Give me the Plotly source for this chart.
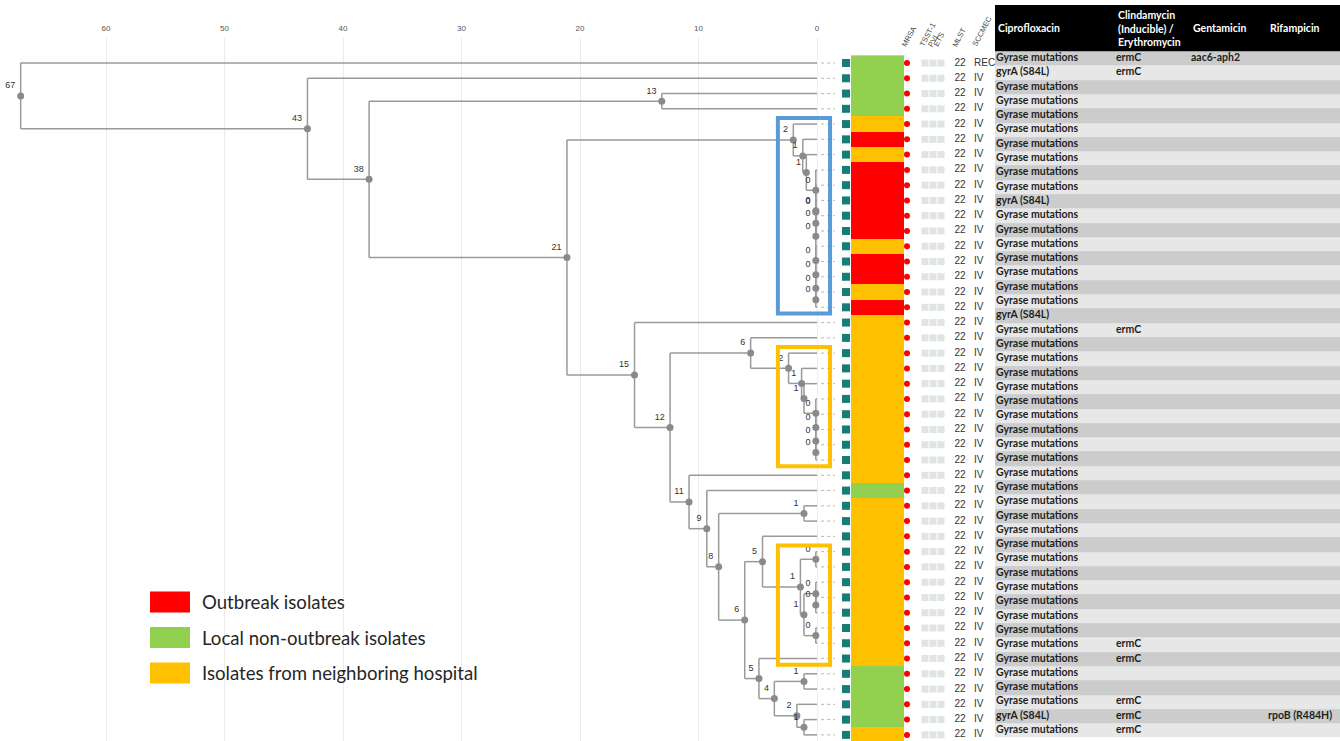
import re
import plotly.graph_objects as go

W, H = 1340, 741

# ---------------- data ----------------
# dendrogram (node labels = node heights, SNP distance)
TREE_NEWICK = ("(S01,(S02,((S03,S04)13.1,((S05,(S06,(S07,(S08,(S09,((S10,(S11,S12)0.1)0.1,"
               "(S13,(S14,(S15,(S16,S17)0.1)0.1)0.1)0.1)0.1)0.1)0.1)0.9)1.2)2.0,"
               "(S18,((S19,(S20,(S21,(S22,(S23,(S24,(S25,(S26,S27)0.1)0.1)0.1)0.1)1.1)1.3)2.4)5.6,"
               "(S28,(S29,((S30,S31)1.1,((S32,((S33,S34)0.1,((S35,(S36,S37)0.1)0.1,(S38,S39)0.1)1.1)1.4)4.6,"
               "(S40,((S41,S42)1.1,(S43,(S44,S45)1.1)1.7)3.6)4.9)6.1)8.3)9.3)10.8)12.4)15.4)21.1)37.8)43.0)67.2;")

DIST_TICKS = [0, 10, 20, 30, 40, 50, 60]

GROUP_NAMES = ["Outbreak isolates", "Local non-outbreak isolates", "Isolates from neighboring hospital"]
GROUP_COLORS = ["#ff0000", "#92d050", "#ffc000"]
# 0 = outbreak, 1 = local non-outbreak, 2 = neighboring hospital (leaf order)
ISOLATE_GROUP = [1, 1, 1, 1, 2, 0, 2, 0, 0, 0, 0, 0, 2, 0, 0, 2, 0,
                 2, 2, 2, 2, 2, 2, 2, 2, 2, 2, 2, 1,
                 2, 2, 2, 2, 2, 2, 2, 2, 2, 2, 2, 1, 1, 1, 1, 2]
MRSA = list("+++++++++++++++++++++++++++++++++++++++++++++")
TSST1 = list("---------------------------------------------")
PVL = list("---------------------------------------------")
ETS = list("---------------------------------------------")
MLST = [22, 22, 22, 22, 22, 22, 22, 22, 22, 22, 22, 22, 22, 22, 22, 22, 22, 22, 22, 22, 22, 22, 22,
        22, 22, 22, 22, 22, 22, 22, 22, 22, 22, 22, 22, 22, 22, 22, 22, 22, 22, 22, 22, 22, 22]
SCCMEC = ["REC", "IV", "IV", "IV", "IV", "IV", "IV", "IV", "IV", "IV", "IV", "IV", "IV", "IV", "IV",
          "IV", "IV", "IV", "IV", "IV", "IV", "IV", "IV", "IV", "IV", "IV", "IV", "IV", "IV", "IV",
          "IV", "IV", "IV", "IV", "IV", "IV", "IV", "IV", "IV", "IV", "IV", "IV", "IV", "IV", "IV"]
STRIP_HEADERS = ["MRSA", "TSST-1", "PVL", "ETS", "MLST", "SCCMEC"]

# resistance table
TABLE_HEADERS = ["Ciprofloxacin", "Clindamycin<br>(Inducible) /<br>Erythromycin", "Gentamicin", "Rifampicin"]
G = "Gyrase mutations"
A = "gyrA (S84L)"
E = "ermC"
CIPRO = [G, A, G, G, G, G, G, G, G, G, A, G, G, G, G, G, G, G, A, G, G, G, G, G,
         G, G, G, G, G, G, G, G, G, G, G, G, G, G, G, G, G, G, G, G, G, G, A, G]
CLINDA = [E, E, "", "", "", "", "", "", "", "", "", "", "", "", "", "", "", "", "", E, "", "", "", "",
          "", "", "", "", "", "", "", "", "", "", "", "", "", "", "", "", "", E, E, "", "", E, E, E]
GENTA = ["aac6-aph2", "", "", "", "", "", "", "", "", "", "", "", "", "", "", "", "", "", "", "", "", "", "", "",
         "", "", "", "", "", "", "", "", "", "", "", "", "", "", "", "", "", "", "", "", "", "", "", ""]
RIF = ["", "", "", "", "", "", "", "", "", "", "", "", "", "", "", "", "", "", "", "", "", "", "", "",
       "", "", "", "", "", "", "", "", "", "", "", "", "", "", "", "", "", "", "", "", "", "", "rpoB (R484H)", ""]

# highlighted clusters (first leaf, last leaf, colour)
CLUSTER_BOXES = [(4, 16, "#5b9bd5"), (19, 26, "#ffc000"), (32, 39, "#ffc000")]


# ---------------- tree parsing / layout ----------------
def parse_newick(s):
    s = s.strip().rstrip(";")
    pos = 0

    def node():
        nonlocal pos
        if s[pos] == "(":
            pos += 1
            kids = [node()]
            while s[pos] == ",":
                pos += 1
                kids.append(node())
            assert s[pos] == ")"
            pos += 1
            m = re.match(r"[0-9.]+", s[pos:])
            pos += len(m.group())
            return {"kids": kids, "h": float(m.group())}
        m = re.match(r"[A-Za-z0-9_]+", s[pos:])
        pos += len(m.group())
        return {"name": m.group(), "h": 0.0}

    return node()


root = parse_newick(TREE_NEWICK)
leaves = []


def place(n):
    if "kids" not in n:
        n["y"] = len(leaves)
        leaves.append(n["name"])
        return
    for k in n["kids"]:
        place(k)
    n["y"] = sum(k["y"] for k in n["kids"]) / len(n["kids"])


place(root)
N = len(leaves)

lx, ly, inner = [], [], []


def edges(n):
    if "kids" not in n:
        return
    inner.append(n)
    ys = [k["y"] for k in n["kids"]]
    lx.extend([n["h"], n["h"], None])
    ly.extend([min(ys), max(ys), None])
    for k in n["kids"]:
        lx.extend([n["h"], k["h"], None])
        ly.extend([k["y"], k["y"], None])
        edges(k)


edges(root)
rows = list(range(N))

# ---------------- pixel geometry ----------------
X0_PX, PX_PER_UNIT = 817, 11.85     # tree x scale
ROW0_PX, ROW_PX = 63, 15.27         # tree rows
TOP_PX = 38
TROW0_PX, TROW_PX = 58.3, 14.3      # table rows
TREE_RIGHT, STRIP_RIGHT = 835, 995
COL_EDGES = [995, 1115, 1190, 1267, 1340]

fig = go.Figure()

LINE_C = "#9a9a9a"
# tree
fig.add_trace(go.Scatter(x=lx, y=ly, mode="lines", line=dict(color=LINE_C, width=1.5),
                         hoverinfo="skip", showlegend=False))
# leaders
dx, dy = [], []
for r in rows:
    dx.extend([-0.35, -1.5, None])
    dy.extend([r, r, None])
fig.add_trace(go.Scatter(x=dx, y=dy, mode="lines", line=dict(color="#b5b5b5", width=1, dash="dot"),
                         hoverinfo="skip", showlegend=False))
# inner nodes
fig.add_trace(go.Scatter(x=[n["h"] for n in inner], y=[n["y"] for n in inner], mode="markers+text",
                         marker=dict(color="#8a8a8a", size=7),
                         text=[str(int(round(n["h"]))) for n in inner], textposition="top left",
                         textfont=dict(family="Liberation Sans", size=9, color="#333333"),
                         hoverinfo="skip", showlegend=False))

# annotation strip (x2)
fig.add_trace(go.Scatter(x=[846] * N, y=rows, xaxis="x2", yaxis="y", mode="markers",
                         marker=dict(symbol="square", size=8, color="#177c73"),
                         hoverinfo="skip", showlegend=False))
fig.add_trace(go.Heatmap(z=[[g] for g in ISOLATE_GROUP], x=[851, 904], y=rows, xaxis="x2", yaxis="y",
                         zmin=0, zmax=2, showscale=False, hoverinfo="skip",
                         colorscale=[[0, GROUP_COLORS[0]], [0.333, GROUP_COLORS[0]],
                                     [0.333, GROUP_COLORS[1]], [0.666, GROUP_COLORS[1]],
                                     [0.666, GROUP_COLORS[2]], [1, GROUP_COLORS[2]]]))
fig.add_trace(go.Scatter(x=[907] * N, y=rows, xaxis="x2", yaxis="y", mode="markers",
                         marker=dict(size=6, color=["#ff0000" if v == "+" else "#e1e4e4" for v in MRSA]),
                         hoverinfo="skip", showlegend=False))
for xpos, col in zip([925, 933, 941], [TSST1, PVL, ETS]):
    fig.add_trace(go.Scatter(x=[xpos] * N, y=rows, xaxis="x2", yaxis="y", mode="markers",
                             marker=dict(symbol="square", size=7,
                                         color=["#177c73" if v == "+" else "#e1e4e4" for v in col]),
                             hoverinfo="skip", showlegend=False))
fig.add_trace(go.Scatter(x=[960] * N, y=rows, xaxis="x2", yaxis="y", mode="text",
                         text=[str(v) for v in MLST], textposition="middle center",
                         textfont=dict(family="Liberation Sans", size=10, color="#333333"),
                         hoverinfo="skip", showlegend=False))
fig.add_trace(go.Scatter(x=[974] * N, y=rows, xaxis="x2", yaxis="y", mode="text",
                         text=SCCMEC, textposition="middle right",
                         textfont=dict(family="Liberation Sans", size=10, color="#333333"),
                         hoverinfo="skip", showlegend=False))

# table (x3 / y3)
TR = len(CIPRO)
trows = list(range(TR))
fig.add_trace(go.Heatmap(z=[[r % 2] * 4 for r in trows], x=COL_EDGES, y=trows, xaxis="x3", yaxis="y3",
                         zmin=0, zmax=1, showscale=False, hoverinfo="skip",
                         colorscale=[[0, "#cccccc"], [1, "#e7e7e7"]]))
for ci, col in enumerate([CIPRO, CLINDA, GENTA, RIF]):
    fig.add_trace(go.Scatter(x=[COL_EDGES[ci] + 1] * TR, y=trows, xaxis="x3", yaxis="y3", mode="text",
                             text=col, textposition="middle right",
                             textfont=dict(family="Lato", size=10.5, color="#1e1e1e", weight="bold"),
                             hoverinfo="skip", showlegend=False))

shapes, annotations = [], []
# table header
hdr_top = (5 - TROW0_PX) / TROW_PX
shapes.append(dict(type="rect", xref="x3", yref="y3", x0=COL_EDGES[0], x1=COL_EDGES[-1],
                   y0=hdr_top, y1=-0.5, fillcolor="#000000", line=dict(width=0), layer="above"))
for ci, t in enumerate(TABLE_HEADERS):
    annotations.append(dict(xref="x3", yref="y3", x=COL_EDGES[ci] + 1, y=(hdr_top - 0.5) / 2,
                            xanchor="left", yanchor="middle", text=t, showarrow=False, align="left",
                            font=dict(family="Lato", size=10.5, color="#ffffff", weight="bold")))
# strip headers (rotated)
for xpos, t in zip([909, 927, 933, 939, 959, 982], STRIP_HEADERS):
    annotations.append(dict(xref="x2", yref="paper", x=xpos, y=1 - 51 / H, xanchor="center",
                            yanchor="bottom", text=t, showarrow=False, textangle=-62,
                            font=dict(family="Liberation Sans", size=7.5, color="#444444")))
# cluster boxes
for r0, r1, c in CLUSTER_BOXES:
    shapes.append(dict(type="rect", xref="x", yref="y", x0=3.3, x1=-1.1, y0=r0 - 0.4, y1=r1 + 0.4,
                       line=dict(color=c, width=4), fillcolor="rgba(0,0,0,0)", layer="above"))
# legend
for i, (name, c) in enumerate(zip(GROUP_NAMES, GROUP_COLORS)):
    yc = 602 + i * 35.5
    shapes.append(dict(type="rect", xref="paper", yref="paper", x0=150 / W, x1=190 / W,
                       y0=1 - (yc + 10.5) / H, y1=1 - (yc - 10.5) / H, fillcolor=c,
                       line=dict(width=0)))
    annotations.append(dict(xref="paper", yref="paper", x=200 / W, y=1 - yc / H, xanchor="left",
                            yanchor="middle", text=name, showarrow=False,
                            font=dict(family="Lato", size=18.6, color="#262626")))

fig.update_layout(
    width=W, height=H, margin=dict(l=0, r=0, t=0, b=0),
    paper_bgcolor="white", plot_bgcolor="white", showlegend=False,
    shapes=shapes, annotations=annotations,
    xaxis=dict(domain=[0, TREE_RIGHT / W],
               range=[X0_PX / PX_PER_UNIT, (X0_PX - TREE_RIGHT) / PX_PER_UNIT],
               side="top", tickvals=DIST_TICKS, ticks="", showgrid=True, gridcolor="#ebebeb",
               gridwidth=1, zeroline=False, showline=False, anchor="y", ticklabelstandoff=4,
               tickfont=dict(family="Liberation Sans", size=8, color="#555555")),
    yaxis=dict(domain=[0, 1 - TOP_PX / H],
               range=[(H - ROW0_PX) / ROW_PX, (TOP_PX - ROW0_PX) / ROW_PX],
               visible=False, anchor="x"),
    xaxis2=dict(domain=[TREE_RIGHT / W, STRIP_RIGHT / W], range=[TREE_RIGHT, STRIP_RIGHT],
                visible=False, anchor="y"),
    xaxis3=dict(domain=[STRIP_RIGHT / W, 1], range=[COL_EDGES[0], COL_EDGES[-1]],
                visible=False, anchor="y3"),
    yaxis3=dict(domain=[0, 1], range=[(H - TROW0_PX) / TROW_PX, -TROW0_PX / TROW_PX],
                visible=False, anchor="x3"),
)

fig.write_html("out.html", config={"displayModeBar": False},
               post_script="document.body.style.margin='0';document.body.style.overflow='hidden';")
